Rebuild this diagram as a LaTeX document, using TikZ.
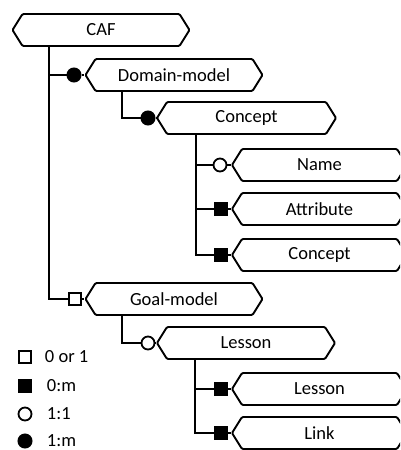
\documentclass[tikz,border=0pt]{standalone}
\usepackage{fontspec}
\setmainfont{Carlito}
\usetikzlibrary{shapes.symbols,positioning}
\begin{document}
\begin{tikzpicture}[x=1pt, y=-1pt, line width=1.9pt,
    tag/.style = {draw, signal, signal from=nowhere, signal to={west and east}, signal pointer angle=116, rounded corners=1.2pt, minimum height=32pt, inner sep=0pt, font=\fontsize{18.5}{21}\selectfont},
    tagA/.style = {tag, minimum width=177pt},
    tagB/.style = {tag, minimum width=175pt},
    onem/.style = {draw, circle, fill=black, minimum size=14pt, inner sep=0pt, line width=1pt},
    oneone/.style = {draw, circle, fill=white, minimum size=13pt, inner sep=0pt, line width=1.8pt},
    zerom/.style = {draw, rectangle, fill=black, minimum size=13pt, inner sep=0pt, line width=1pt},
    zeroone/.style = {draw, rectangle, fill=white, minimum size=12pt, inner sep=0pt, line width=1.8pt},
    key/.style = {anchor=west, inner sep=0pt, font=\fontsize{18.5}{21}\selectfont}]
    \useasboundingbox (0,0) rectangle (400,450);
    \clip (0,0) rectangle (400,450);
    \node[tagA] (caf) at (101,30) {CAF};
    \node[tagA] (dom) at (174,75) {Domain-model};
    \node[tagA, minimum width=179pt] (con) at (246.5,118) {Concept};
    \node[tagB] (name) at (319.5,165) {Name};
    \node[tagB] (attr) at (319.5,209) {Attribute};
    \node[tagB] (conc) at (319.5,255) {Concept};
    \node[tagA] (goal) at (174,299) {Goal-model};
    \node[tagA, minimum width=178pt] (les) at (246,343) {Lesson};
    \node[tagB] (les2) at (319.5,389) {Lesson};
    \node[tagB] (link) at (319.5,433) {Link};
    \node[onem] (mdom) at (74,75) {};
    \node[onem] (mcon) at (148,118) {};
    \node[oneone] (mname) at (220,165) {};
    \node[zerom] (mattr) at (221,209) {};
    \node[zerom] (mconc) at (221,255) {};
    \node[zeroone] (mgoal) at (75,299) {};
    \node[oneone] (mles) at (148,343) {};
    \node[zerom] (mles2) at (221,389) {};
    \node[zerom] (mlink) at (221,433) {};
    \coordinate (t1) at (49,0);
    \coordinate (t2) at (122,0);
    \coordinate (t3) at (196,0);
    \coordinate (t4) at (195,0);
    \draw (t1 |- caf.south) -- (t1 |- mgoal) -- (mgoal);
    \draw (t1 |- mdom) -- (mdom);
    \draw (t2 |- dom.south) -- (t2 |- mcon) -- (mcon);
    \draw (t3 |- con.south) -- (t3 |- mconc) -- (mconc);
    \draw (t3 |- mname) -- (mname);
    \draw (t3 |- mattr) -- (mattr);
    \draw (t2 |- goal.south) -- (t2 |- mles) -- (mles);
    \draw (t4 |- les.south) -- (t4 |- mlink) -- (mlink);
    \draw (t4 |- mles2) -- (mles2);
    \draw (mdom) -- (dom.west);
    \draw (mcon) -- (con.west);
    \draw (mname) -- (name.west);
    \draw (mattr) -- (attr.west);
    \draw (mconc) -- (conc.west);
    \draw (mgoal) -- (goal.west);
    \draw (mles) -- (les.west);
    \draw (mles2) -- (les2.west);
    \draw (mlink) -- (link.west);
    \node[zeroone] (k1) at (25,357) {};
    \node[zerom] (k2) at (25,386) {};
    \node[oneone] (k3) at (25,414) {};
    \node[onem] (k4) at (25,441) {};
    \node[key] (l1) at (44,357) {0 or 1};
    \node[key] (l2) at (46,386) {0:m};
    \node[key] (l3) at (46,414) {1:1};
    \node[key] (l4) at (46,441) {1:m};
\end{tikzpicture}
\end{document}
